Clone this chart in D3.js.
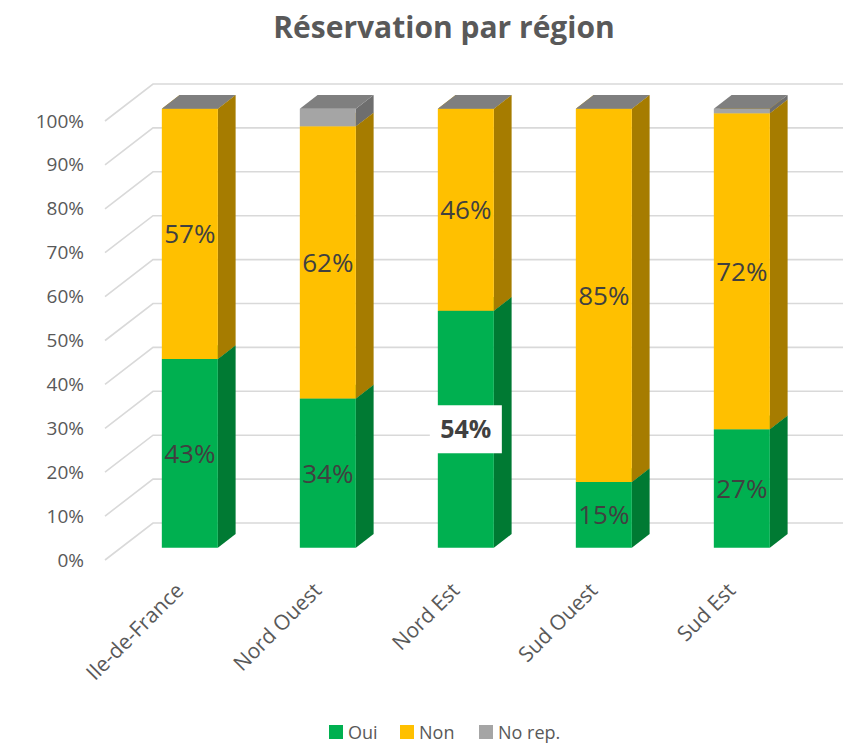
<!DOCTYPE html>
<html>
<head>
<meta charset="utf-8">
<script src="https://cdn.jsdelivr.net/npm/d3@7"></script>
<style>
  body { margin: 0; background: #fff; }
  svg { font-family: "Open Sans", "Noto Sans", sans-serif; }
</style>
</head>
<body>
<svg width="856" height="744"></svg>
<script>
// data
var categories = ["Ile-de-France", "Nord Ouest", "Nord Est", "Sud Ouest", "Sud Est"];
var oui = [43, 34, 54, 15, 27];
var non = [57, 62, 46, 85, 72];
var noRep = [0, 4, 0, 0, 1];
var seriesNames = ["Oui", "Non", "No rep."];
var yTicks = [0, 10, 20, 30, 40, 50, 60, 70, 80, 90, 100];

var svg = d3.select("svg");

// 3d-ish frame: front plane origin and depth vector
var ox = 105, DX = 48, DY = -37;
var z0 = 0.33, z1 = 0.70;   // bar depth inside the box

var y = d3.scaleLinear().domain([0, 100]).range([560, 121]);
var x = d3.scaleBand().domain(categories).range([0, 690])
  .paddingInner(0.594).paddingOuter(0.297);

var colors = [
  { front: "#00b050", side: "#007a33", top: "#00913f" },
  { front: "#ffc000", side: "#a67c00", top: "#d9a300" },
  { front: "#a5a5a5", side: "#6e6e6e", top: "#7f7f7f" }
];

function pt(px, v, z) {
  return [ox + px + DX * z, y(v) + DY * z];
}
function poly(pts) {
  return "M" + pts.map(function(p) { return p[0] + "," + p[1]; }).join("L") + "Z";
}

// title
svg.append("text")
  .attr("x", 444)
  .attr("y", 38)
  .attr("text-anchor", "middle")
  .attr("font-size", 30)
  .attr("font-weight", "bold")
  .attr("fill", "#595959")
  .text("Réservation par région");

// gridlines: side wall slant + back wall
var grid = svg.append("g");
yTicks.forEach(function(t) {
  var a = pt(0, t, 0), b = pt(0, t, 1), c = [ox + 690 + DX, b[1]];
  grid.append("path")
    .attr("d", "M" + a + "L" + b + "L" + c)
    .attr("fill", "none")
    .attr("stroke", "#d9d9d9")
    .attr("stroke-width", 1.6);
});

// y axis labels
var yAxis = svg.append("g")
  .attr("transform", "translate(84,0)")
  .call(d3.axisLeft(y).tickValues(yTicks).tickSize(0).tickPadding(0)
    .tickFormat(function(d) { return d + "%"; }));
yAxis.select(".domain").remove();
yAxis.selectAll("text")
  .attr("font-size", 19)
  .attr("font-family", "Open Sans, sans-serif")
  .attr("fill", "#595959");

// stacked 3d bars
var stacks = [oui, non, noRep];
var bars = svg.append("g");
categories.forEach(function(cat, i) {
  var x0 = x(cat), x1 = x(cat) + x.bandwidth();
  var base = 0;
  stacks.forEach(function(vals, s) {
    var lo = base, hi = base + vals[i];
    var c = colors[s];
    // side face
    bars.append("path")
      .attr("d", poly([pt(x1, lo, z0), pt(x1, lo, z1), pt(x1, hi, z1), pt(x1, hi, z0)]))
      .attr("fill", c.side);
    // front face
    bars.append("path")
      .attr("d", poly([pt(x0, lo, z0), pt(x1, lo, z0), pt(x1, hi, z0), pt(x0, hi, z0)]))
      .attr("fill", c.front);
    // top face
    bars.append("path")
      .attr("d", poly([pt(x0, hi, z0), pt(x1, hi, z0), pt(x1, hi, z1), pt(x0, hi, z1)]))
      .attr("fill", c.top);
    base = hi;
  });
});

// data labels (Oui, Non)
var labels = svg.append("g");
categories.forEach(function(cat, i) {
  var cx = x(cat) + x.bandwidth() / 2;
  var base = 0;
  [oui, non].forEach(function(vals, s) {
    var mid = base + vals[i] / 2;
    var p = pt(cx, mid, z0);
    var highlight = (s === 0 && cat === "Nord Est");
    if (highlight) {
      labels.append("rect")
        .attr("x", p[0] - 36).attr("y", p[1] - 24)
        .attr("width", 72).attr("height", 48)
        .attr("fill", "#fff");
    }
    labels.append("text")
      .attr("x", p[0])
      .attr("y", p[1])
      .attr("dy", "0.36em")
      .attr("text-anchor", "middle")
      .attr("font-size", highlight ? 25 : 26)
      .attr("font-weight", highlight ? "bold" : "normal")
      .attr("fill", "#404040")
      .text(vals[i] + "%");
    base += vals[i];
  });
});

// category labels
svg.append("g").selectAll("text")
  .data(categories)
  .join("text")
  .attr("transform", function(d) {
    var p = pt(x(d) + x.bandwidth() / 2, 0, z0);
    return "translate(" + (p[0] - 5) + "," + (p[1] + 44) + ") rotate(-45)";
  })
  .attr("text-anchor", "end")
  .attr("font-size", 21)
  .attr("fill", "#595959")
  .text(function(d) { return d; });

// legend
var legendX = [329, 400, 479];
var legend = svg.append("g");
seriesNames.forEach(function(name, s) {
  legend.append("rect")
    .attr("x", legendX[s]).attr("y", 725)
    .attr("width", 14).attr("height", 14)
    .attr("fill", colors[s].front);
  legend.append("text")
    .attr("x", legendX[s] + 19)
    .attr("y", 739)
    .attr("font-size", 18)
    .attr("fill", "#595959")
    .text(name);
});
</script>
</body>
</html>
